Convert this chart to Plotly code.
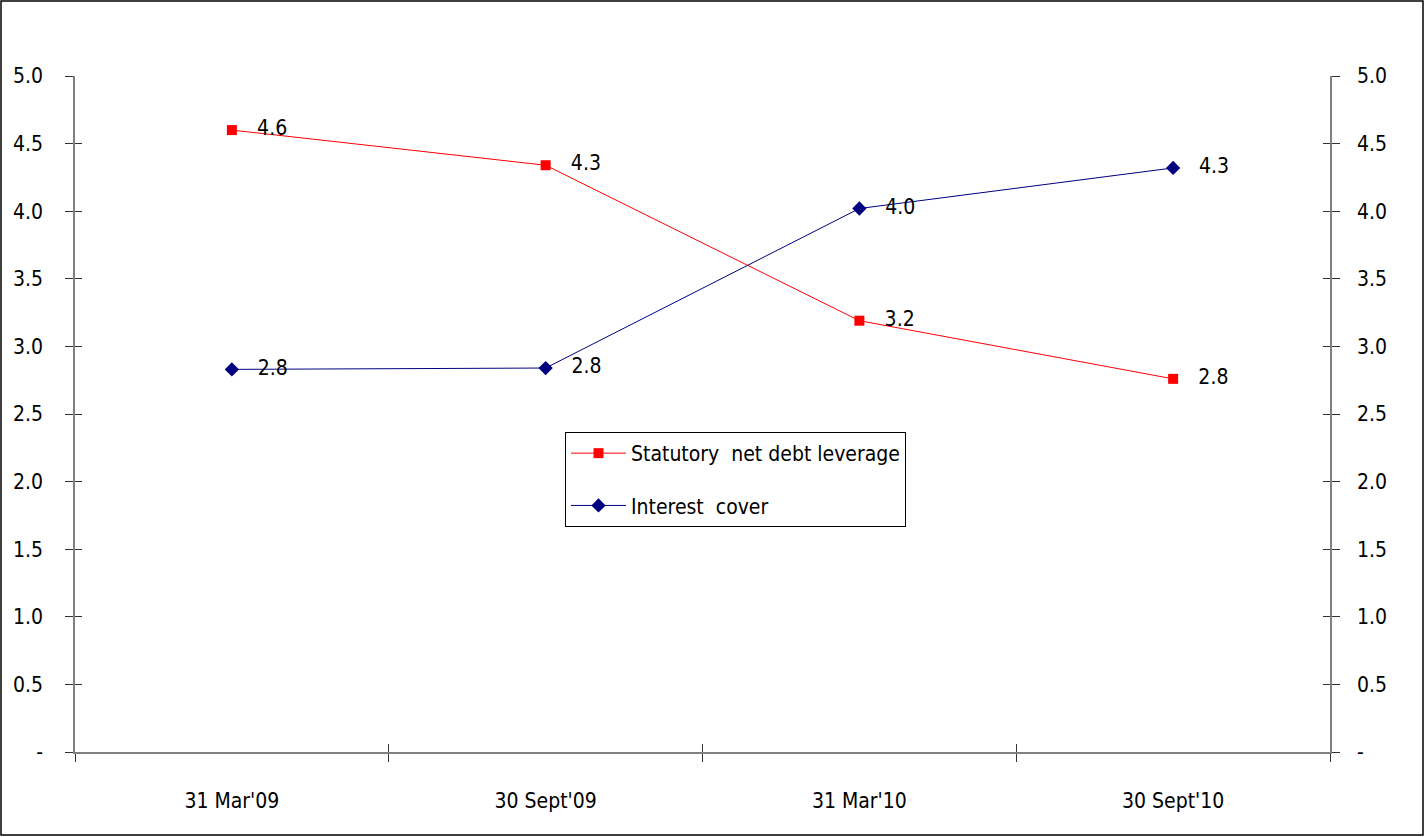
import plotly.graph_objects as go

categories = ["31 Mar'09", "30 Sept'09", "31 Mar'10", "30 Sept'10"]
leverage = [4.60, 4.34, 3.19, 2.76]
interest_cover = [2.83, 2.84, 4.02, 4.32]
ytick_vals = [0, 0.5, 1.0, 1.5, 2.0, 2.5, 3.0, 3.5, 4.0, 4.5, 5.0]
ytick_text = ["-", "0.5", "1.0", "1.5", "2.0", "2.5", "3.0", "3.5", "4.0", "4.5", "5.0"]

FONT = "Liberation Sans Narrow, Arial Narrow, DejaVu Sans Condensed, sans-serif"
FS = 21
W, H = 1425, 837
ML, MR, MT, MB = 75, 95, 76, 85

idx = list(range(len(categories)))
bounds = [i - 0.5 for i in range(len(categories) + 1)]
xr = [-0.5, len(categories) - 0.5]
yr = [0, 5]

fig = go.Figure()
fig.add_trace(go.Scatter(
    x=idx, y=leverage, name="Statutory  net debt leverage", legendgroup="a",
    mode="lines+markers+text",
    line=dict(color="#FF0000", width=1),
    marker=dict(symbol="square", size=10, color="#FF0000"),
    texttemplate="   %{y:.1f}", textposition="middle right",
    textfont=dict(family=FONT, size=FS, color="black"),
))
fig.add_trace(go.Scatter(
    x=idx, y=interest_cover, name="Interest  cover", legendgroup="b",
    mode="lines+markers+text",
    line=dict(color="#000080", width=1),
    marker=dict(symbol="diamond", size=11, color="#000080"),
    texttemplate="   %{y:.1f}", textposition="middle right",
    textfont=dict(family=FONT, size=FS, color="black"),
))

# invisible helper traces so the overlay axes (right axis, crossing ticks, labels) get drawn
for xa, ya in [("x2", "y2"), ("x3", "y3"), ("x", "y4")]:
    fig.add_trace(go.Scatter(
        x=idx, y=leverage, xaxis=xa, yaxis=ya, mode="markers",
        marker=dict(opacity=0), hoverinfo="skip", showlegend=False,
    ))

axline = dict(showline=True, linecolor="#808080", linewidth=1.5, showgrid=False,
              zeroline=False, automargin=False)
noline = dict(showgrid=False, zeroline=False, showline=False, automargin=False)

fig.update_layout(
    width=W, height=H,
    margin=dict(l=ML, r=MR, t=MT, b=MB, autoexpand=False),
    paper_bgcolor="white", plot_bgcolor="white",
    font=dict(family=FONT, size=FS, color="black"),
    showlegend=True,
    legend=dict(
        x=(565 - ML) / (W - ML - MR), y=(H - MB - 432) / (H - MT - MB),
        xanchor="left", yanchor="top",
        bordercolor="black", borderwidth=1, bgcolor="white",
        font=dict(family=FONT, size=FS, color="black"),
        tracegroupgap=22, itemwidth=55,
    ),
    xaxis=dict(range=xr, tickmode="array", tickvals=bounds, showticklabels=False,
               ticks="outside", ticklen=8, tickcolor="#333333", **axline),
    xaxis2=dict(range=xr, overlaying="x", side="bottom", anchor="y",
                tickmode="array", tickvals=idx, ticktext=categories,
                ticks="outside", ticklen=30, tickcolor="rgba(0,0,0,0)", **noline),
    xaxis3=dict(range=xr, overlaying="x", side="bottom", anchor="y",
                tickmode="array", tickvals=bounds, showticklabels=False,
                ticks="inside", ticklen=8, tickcolor="#333333", **noline),
    yaxis=dict(range=yr, tickmode="array", tickvals=ytick_vals, ticktext=ytick_text,
               ticks="outside", ticklen=8, tickcolor="#333333", ticklabelstandoff=18,
               **axline),
    yaxis2=dict(range=yr, overlaying="y", side="right", anchor="x",
                tickmode="array", tickvals=ytick_vals, ticktext=ytick_text,
                ticks="outside", ticklen=8, tickcolor="#333333", ticklabelstandoff=13,
                **axline),
    yaxis3=dict(range=yr, overlaying="y", side="left", anchor="x",
                tickmode="array", tickvals=ytick_vals, showticklabels=False,
                ticks="inside", ticklen=7, tickcolor="#333333", **noline),
    yaxis4=dict(range=yr, overlaying="y", side="right", anchor="x",
                tickmode="array", tickvals=ytick_vals, showticklabels=False,
                ticks="inside", ticklen=7, tickcolor="#333333", **noline),
    shapes=[dict(
        type="rect", xref="paper", yref="paper",
        x0=-(ML - 1) / (W - ML - MR), x1=1 + (MR - 2) / (W - ML - MR),
        y0=-(MB - 2) / (H - MT - MB), y1=1 + (MT - 1) / (H - MT - MB),
        line=dict(color="black", width=1.5), fillcolor="rgba(0,0,0,0)", layer="below",
    )],
)

fig.write_html(
    "out.html",
    config={"displayModeBar": False},
    post_script="document.body.style.margin='0';document.body.style.overflow='hidden';",
)
